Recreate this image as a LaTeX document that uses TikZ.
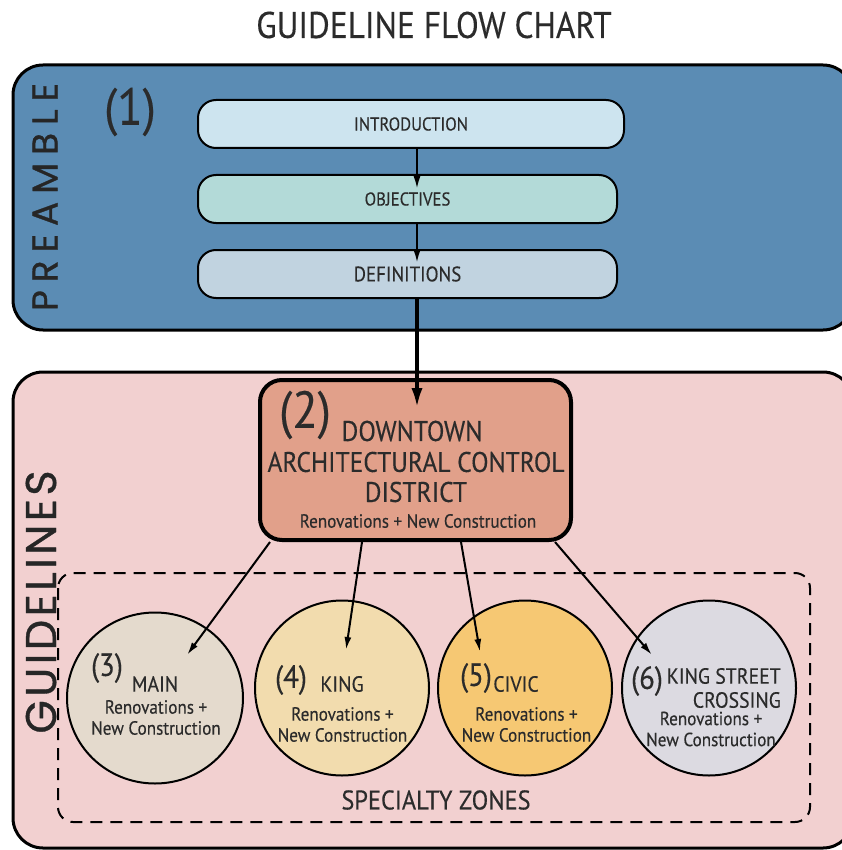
\documentclass[tikz,border=0pt]{standalone}
\usepackage{fontspec}
\setmainfont[FakeStretch=0.9,FakeBold=0.3]{PT Sans}
\newfontfamily\preafont[LetterSpace=22,FakeBold=0.8]{Poppins}
\newfontfamily\guifont[LetterSpace=8,FakeBold=0.8]{Poppins}
\usetikzlibrary{calc,arrows.meta,shapes.geometric}
\definecolor{preblue}{HTML}{5B8CB4}
\definecolor{introc}{HTML}{CDE4EF}
\definecolor{objc}{HTML}{B3DAD8}
\definecolor{defc}{HTML}{C1D3E0}
\definecolor{pinkbg}{HTML}{F2D0D0}
\definecolor{dtc}{HTML}{E1A08A}
\definecolor{cthree}{HTML}{E4DACD}
\definecolor{cfour}{HTML}{F2DCAE}
\definecolor{cfive}{HTML}{F6C873}
\definecolor{csix}{HTML}{DCDAE1}
\definecolor{txt}{HTML}{2B2B2B}
\begin{document}
\begin{tikzpicture}[x=1pt,y=-1pt,
  region/.style={draw=black,line width=3pt,rounded corners=30pt,inner sep=0pt},
  pill/.style={draw=black,line width=2pt,rounded corners=18pt,minimum width=424pt,minimum height=48pt,inner sep=0pt,text=txt,font=\fontsize{18.6}{18.6}\selectfont},
  zone/.style={ellipse,draw=black,line width=2pt,minimum width=174pt,minimum height=175pt,inner sep=0pt},
  lbl/.style={text=txt,inner sep=0pt},
  num/.style={lbl,font=\fontsize{32}{32}\selectfont},
  zname/.style={lbl,font=\fontsize{22}{24}\selectfont},
  ztext/.style={lbl,align=center,font=\fontsize{19}{21}\selectfont},
  thinarr/.style={draw=black,line width=2pt,-{Latex[length=13pt,width=7pt]}},
  thickarr/.style={draw=black,line width=4.5pt,-{Latex[length=22pt,width=11pt]}}
]
\useasboundingbox (0,0) rectangle (841,850);
\fill[white] (0,0) rectangle (841,850);
\coordinate (col) at (417,0);

\node[lbl,font=\fontsize{37}{37}\selectfont] (title) at (434,25) {GUIDELINE FLOW CHART};

% preamble region
\node[region,fill=preblue,minimum width=840pt,minimum height=265pt] (pre) at (433,197.5) {};
\node[lbl,rotate=90,font=\preafont\fontsize{36}{36}\selectfont,text=black!85] (pretxt) at (45,197) {PREAMBLE};
\node[lbl,font=\fontsize{52}{52}\selectfont] (one) at (130,112) {(1)};

\node[pill,fill=introc,minimum width=426pt] (intro) at (411,124) {INTRODUCTION};
\node[pill,fill=objc,minimum width=419pt] (obj) at (407.5,199) {OBJECTIVES};
\node[pill,fill=defc,minimum width=419pt,font=\fontsize{21}{21}\selectfont] (def) at (407.5,274) {DEFINITIONS};

% guidelines region
\node[region,fill=pinkbg,minimum width=840pt,minimum height=476pt] (gui) at (433,610) {};
\node[lbl,rotate=90,font=\guifont\fontsize{43}{43}\selectfont,text=black!85] (guitxt) at (41,602) {GUIDELINES};

% downtown box
\node[draw=black,line width=4pt,rounded corners=22pt,fill=dtc,minimum width=311pt,minimum height=160pt,inner sep=0pt] (dt) at (415.5,460) {};
\node[lbl,font=\fontsize{52}{52}\selectfont] (two) at (305,415) {(2)};
\node[lbl,font=\fontsize{28.5}{28.5}\selectfont] (dt1) at (412,431) {DOWNTOWN};
\node[lbl,font=\fontsize{28.3}{28.3}\selectfont] (dt2) at (416,462) {ARCHITECTURAL CONTROL};
\node[lbl,font=\fontsize{28.3}{28.3}\selectfont] (dt3) at (416,492) {DISTRICT};
\node[lbl,font=\fontsize{19}{19}\selectfont] (dt4) at (418,521) {Renovations + New Construction};

% specialty zones
\draw[black,line width=2pt,dash pattern=on 12pt off 8pt,rounded corners=15pt] (58,573) rectangle (810,822);
\node[lbl,font=\fontsize{27}{27}\selectfont] (sz) at (436,800) {SPECIALTY ZONES};

\node[zone,fill=cthree,minimum width=176pt,minimum height=171pt] (z3) at (155,698) {};
\node[zone,fill=cfour] (z4) at (342,688) {};
\node[zone,fill=cfive] (z5) at (525,688) {};
\node[zone,fill=csix] (z6) at (709,688) {};

\node[num] (n3) at (107,668) {(3)};
\node[zname] (m3) at (155,684) {MAIN};
\node[ztext] (r3) at (156,717.5) {Renovations +\\New Construction};

\node[num] (n4) at (291,680) {(4)};
\node[zname] (m4) at (342,684) {KING};
\node[ztext] (r4) at (342.5,724.5) {Renovations +\\New Construction};

\node[num] (n5) at (476,678) {(5)};
\node[zname] (m5) at (516,684) {CIVIC};
\node[ztext] (r5) at (526.5,724.5) {Renovations +\\New Construction};

\node[num] (n6) at (647,681) {(6)};
\node[zname,align=right,anchor=east] (m6) at (781,688) {KING STREET\\CROSSING};
\node[ztext] (r6) at (711,729) {Renovations +\\New Construction};

% connectors
\draw[thinarr] (intro.south -| col) -- ($(obj.north -| col)+(0,15)$);
\draw[thinarr] (obj.south -| col) -- ($(def.north -| col)+(0,14)$);
\draw[thickarr] (def.south -| col) -- ($(dt.north -| col)+(0,32)$);

\coordinate (t3) at ($(z3.center)+(32,-43)$);
\coordinate (t4) at ($(z4.center)+(4,-38)$);
\coordinate (t5) at ($(z5.center)+(-45,-36)$);
\coordinate (t6) at ($(z6.center)+(-57,-33)$);
\draw[thinarr] ($(dt.south west)+(12,0)$) -- (t3);
\draw[thinarr] ($(dt.south west)+(104,0)$) -- (t4);
\draw[thinarr] ($(dt.south west)+(203,0)$) -- (t5);
\draw[thinarr] ($(dt.south west)+(297,0)$) -- (t6);
\end{tikzpicture}
\end{document}
